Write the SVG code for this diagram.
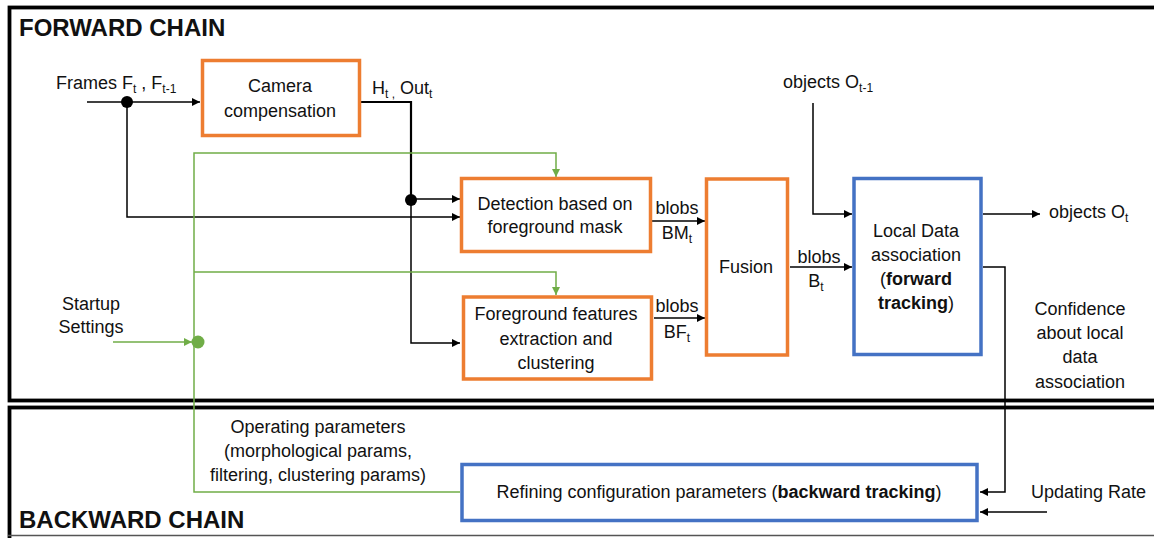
<svg xmlns="http://www.w3.org/2000/svg" width="1154" height="538" viewBox="0 0 1154 538">
<style>
text{font-family:"Liberation Sans",Arial,sans-serif;font-size:18px;fill:#111}
.t{font-size:24px;font-weight:bold}
.c{text-anchor:middle}
.b{font-weight:bold}
.s{font-size:12px}
.frame{fill:none;stroke:#000;stroke-width:3.8}
.ob{fill:#fff;stroke:#ED7D31;stroke-width:3.5}
.bb{fill:#fff;stroke:#4472C4;stroke-width:3.5}
.k{fill:none;stroke:#000;stroke-width:1.5}
.g{fill:none;stroke:#70AD47;stroke-width:1.5}
</style>
<defs>
<marker id="a" viewBox="0 0 10 10" refX="10" refY="5" markerUnits="userSpaceOnUse" markerWidth="9" markerHeight="8" orient="auto"><path d="M0,0L10,5L0,10z" fill="#000"/></marker>
<marker id="ag" viewBox="0 0 10 10" refX="10" refY="5" markerUnits="userSpaceOnUse" markerWidth="9" markerHeight="8" orient="auto"><path d="M0,0L10,5L0,10z" fill="#70AD47"/></marker>
</defs>
<rect width="1154" height="538" fill="#fff"/>
<g id="frames">
<rect class="frame" x="9.5" y="7.5" width="1160" height="393"/>
<rect class="frame" x="9.5" y="407.5" width="1160" height="140"/>
<line x1="8" y1="535.5" x2="1154" y2="535.5" stroke="#555" stroke-width="1.5"/>
<text class="t" x="19" y="36">FORWARD CHAIN</text>
<text class="t" x="19" y="528">BACKWARD CHAIN</text>
</g>
<g id="connectors">
<path class="k" d="M87,102H200" marker-end="url(#a)"/>
<path class="k" d="M127,102V217H460" marker-end="url(#a)"/>
<path d="M361,102H411V200" fill="none" stroke="#000" stroke-width="2.2"/>
<path class="k" d="M411,200V343H460" marker-end="url(#a)"/>
<path class="k" d="M411,199H460" marker-end="url(#a)"/>
<path class="k" d="M652,221H705" marker-end="url(#a)"/>
<path class="k" d="M654,318H705" marker-end="url(#a)"/>
<path class="k" d="M790,267H852" marker-end="url(#a)"/>
<path class="k" d="M813,103V214H852" marker-end="url(#a)"/>
<path class="k" d="M983,214H1040" marker-end="url(#a)"/>
<path class="k" d="M983,267H1005V492H980" marker-end="url(#a)"/>
<path class="k" d="M1047,512H980" marker-end="url(#a)"/>
<path class="g" d="M460,492H194V153H556V177" marker-end="url(#ag)"/>
<path class="g" d="M194,272H556V295" marker-end="url(#ag)"/>
<path class="g" d="M113,342H192" marker-end="url(#ag)"/>
<circle cx="127" cy="102" r="6" fill="#000"/>
<circle cx="411" cy="200" r="6" fill="#000"/>
<circle cx="198" cy="342" r="6.5" fill="#70AD47"/>
</g>
<g id="labels">
<text x="56" y="89">Frames F<tspan class="s" dy="4">t</tspan><tspan dy="-4"> , F</tspan><tspan class="s" dy="4">t-1</tspan></text>
<text x="372" y="94">H<tspan class="s" dy="4">t ,</tspan><tspan dy="-4"> Out</tspan><tspan class="s" dy="4">t</tspan></text>
<text class="c" x="677" y="214">blobs</text>
<text class="c" x="677" y="239">BM<tspan class="s" dy="4">t</tspan></text>
<text class="c" x="677" y="312">blobs</text>
<text class="c" x="677" y="338">BF<tspan class="s" dy="4">t</tspan></text>
<text class="c" x="819" y="263">blobs</text>
<text class="c" x="816" y="287">B<tspan class="s" dy="4">t</tspan></text>
<text x="783" y="88">objects O<tspan class="s" dy="4">t-1</tspan></text>
<text x="1049" y="218">objects O<tspan class="s" dy="4">t</tspan></text>
<text class="c" x="1080" y="315">Confidence</text>
<text class="c" x="1080" y="339">about local</text>
<text class="c" x="1080" y="363">data</text>
<text class="c" x="1080" y="388">association</text>
<text x="1031" y="498">Updating Rate</text>
<text class="c" x="91" y="310">Startup</text>
<text class="c" x="91" y="333">Settings</text>
<text class="c" x="318" y="433">Operating parameters</text>
<text class="c" x="318" y="457">(morphological params,</text>
<text class="c" x="318" y="481">filtering, clustering params)</text>
</g>
<g id="camera">
<rect class="ob" x="202.5" y="60.5" width="157" height="75"/>
<text class="c" x="280" y="92">Camera</text>
<text class="c" x="280" y="117">compensation</text>
</g>
<g id="detection">
<rect class="ob" x="461.5" y="178.5" width="189" height="73"/>
<text class="c" x="555" y="210">Detection based on</text>
<text class="c" x="555" y="233">foreground mask</text>
</g>
<g id="foreground">
<rect class="ob" x="463.5" y="297" width="188" height="82"/>
<text class="c" x="556" y="320">Foreground features</text>
<text class="c" x="556" y="345">extraction and</text>
<text class="c" x="556" y="369">clustering</text>
</g>
<g id="fusion">
<rect class="ob" x="706.5" y="179" width="81" height="176"/>
<text class="c" x="746" y="273">Fusion</text>
</g>
<g id="local">
<rect class="bb" x="854" y="178.5" width="127" height="176"/>
<text class="c" x="916" y="237">Local Data</text>
<text class="c" x="916" y="261">association</text>
<text class="c" x="916" y="285">(<tspan class="b">forward</tspan></text>
<text class="c" x="916" y="309"><tspan class="b">tracking</tspan>)</text>
</g>
<g id="refining">
<rect class="bb" x="462" y="464.5" width="515" height="56"/>
<text class="c" x="719" y="498">Refining configuration parameters (<tspan class="b">backward tracking</tspan>)</text>
</g>
</svg>
